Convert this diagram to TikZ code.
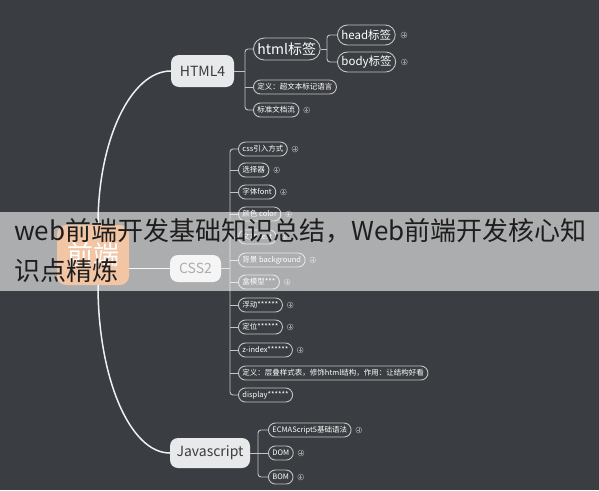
\documentclass[tikz,border=0pt]{standalone}
\usepackage{fontspec}
\setmainfont{Noto Sans CJK SC}
\definecolor{bg}{HTML}{3A3D41}
\definecolor{mainfill}{HTML}{E8E9EB}
\definecolor{maintext}{HTML}{3C3C3C}
\definecolor{subline}{HTML}{C4C4C4}
\definecolor{iconcol}{HTML}{9A9A9A}
\definecolor{rootfill}{HTML}{E2782A}
\definecolor{overtext}{HTML}{1E1E1E}
\tikzset{
  mainbox/.style={fill=mainfill, rounded corners=8pt, text=maintext, inner sep=0pt,
    font=\fontsize{14}{16}\selectfont},
  rootbox/.style={fill=rootfill, rounded corners=9pt, text=white, inner sep=0pt,
    minimum width=72pt, minimum height=60pt, font=\fontsize{26}{28}\selectfont},
  subbox/.style={draw=subline, line width=0.9pt, rounded corners=7pt, fill=bg, text=white,
    font=\fontsize{7.5}{9}\selectfont, minimum height=14pt, inner xsep=4pt, inner ysep=0pt, anchor=west},
  bigsub/.style={subbox, rounded corners=10pt, minimum height=20pt, font=\fontsize{11.5}{13}\selectfont},
  hugesub/.style={subbox, rounded corners=11pt, minimum height=22pt, font=\fontsize{14}{16}\selectfont},
  plusic/.style={circle, draw=iconcol, line width=0.5pt, minimum size=6pt, inner sep=0pt, anchor=west,
    path picture={
      \draw[iconcol, line width=0.5pt] ([xshift=-1.6pt]path picture bounding box.center) -- ([xshift=1.6pt]path picture bounding box.center);
      \draw[iconcol, line width=0.5pt] ([yshift=-1.6pt]path picture bounding box.center) -- ([yshift=1.6pt]path picture bounding box.center);}},
  mainline/.style={draw=white!94!black, line width=1.5pt},
  brline/.style={draw=subline, line width=0.9pt},
  brround/.style={brline, rounded corners=3pt},
  overtxt/.style={text=overtext, inner sep=0pt, anchor=base west, font=\fontsize{26}{28}\selectfont}
}
\begin{document}
\begin{tikzpicture}[x=1pt,y=-1pt]
\useasboundingbox (0,0) rectangle (599,490);
\fill[bg] (0,0) rectangle (599,490);

% main nodes
\node[rootbox] (root) at (93,255) {前端};
\node[mainbox, minimum width=63pt, minimum height=32pt] (h4) at (202.5,71) {HTML4};
\node[mainbox, minimum width=51pt, minimum height=27pt] (css) at (195.5,268.5) {CSS2};
\node[mainbox, minimum width=80pt, minimum height=30pt] (js) at (210,453) {Javascript};

% main curves
\draw[mainline] ([xshift=5pt]root.north) .. controls (98,140) and (131,71) .. (h4.west);
\draw[mainline] ([xshift=5pt]root.south) .. controls (98,378) and (130,453) .. (js.west);
\draw[mainline] (root.east |- css.west) -- (css.west);

% HTML4 children
\node[hugesub] (hh) at (253,49) {html标签};
\node[subbox] (hd) at (253,87) {定义：超文本标记语言};
\node[subbox] (hs) at (253,110) {标准文档流};
\node[plusic] (phs) at ([xshift=4pt]hs.east) {};
\node[bigsub] (head) at (337,35) {head标签};
\node[bigsub] (body) at (337,62) {body标签};
\node[plusic] (phead) at ([xshift=5pt]head.east) {};
\node[plusic] (pbody) at ([xshift=5pt]body.east) {};

\coordinate (th) at (245,71);
\coordinate (th2) at (327,49);
\draw[brline] (h4.east) -- (th);
\draw[brround] (hh.west) -| (th) |- (hs.west);
\draw[brline] (th |- hd.west) -- (hd.west);
\draw[brline] (hh.east) -- (th2);
\draw[brround] (head.west) -| (th2) |- (body.west);

% CSS2 children
\node[subbox] (c1) at (238,149) {css引入方式};
\node[subbox] (c2) at (238,170) {选择器};
\node[subbox] (c3) at (238,192) {字体font};
\node[subbox] (c4) at (238,214) {颜色 color};
\node[subbox] (c5) at (238,237) {文本 text};
\node[subbox] (c6) at (238,260) {背景 background};
\node[subbox] (c7) at (238,282) {盒模型***};
\node[subbox] (c8) at (238,305) {浮动******};
\node[subbox] (c9) at (238,327) {定位******};
\node[subbox] (c10) at (238,350) {z-index******};
\node[subbox] (c11) at (238,373) {定义：层叠样式表，修饰html结构，作用：让结构好看};
\node[subbox] (c12) at (238,395) {display******};
\foreach \i in {1,...,10} {
  \node[plusic] (pc\i) at ([xshift=4pt]c\i.east) {};
}
\coordinate (tc) at (230,268.5);
\draw[brline] (css.east) -- (tc);
\draw[brround] (c1.west) -| (tc) |- (c12.west);
\foreach \i in {2,...,11} {
  \draw[brline] (tc |- c\i.west) -- (c\i.west);
}

% Javascript children
\node[subbox] (j1) at (268,430) {ECMAScript5基础语法};
\node[subbox] (j2) at (268,453) {DOM};
\node[subbox] (j3) at (268,477) {BOM};
\node[plusic] (pj1) at ([xshift=4pt]j1.east) {};
\node[plusic] (pj2) at ([xshift=4pt]j2.east) {};
\node[plusic] (pj3) at ([xshift=4pt]j3.east) {};
\coordinate (tj) at (258,453);
\draw[brline] (js.east) -- (j2.west);
\draw[brround] (j1.west) -| (tj) |- (j3.west);

% overlay band
\fill[white, opacity=0.58] (0,212) rectangle (599,291);
\node[overtxt] (t1) at (14,240) {web前端开发基础知识总结，Web前端开发核心知};
\node[overtxt] (t2) at (14,280) {识点精炼};
\end{tikzpicture}
\end{document}
